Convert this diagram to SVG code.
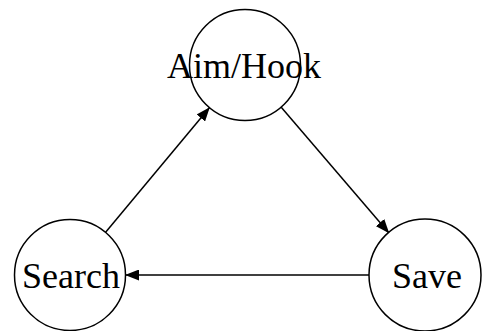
<svg xmlns="http://www.w3.org/2000/svg" width="483" height="331" viewBox="0 0 483 331">
<style>
.node circle{fill:#fff;stroke:#000;stroke-width:1.5}
.node text{font-family:"Liberation Serif","Times New Roman",serif;font-size:36px;fill:#000;text-anchor:middle}
.edge{stroke:#000;stroke-width:1.5;fill:none}
</style>
<defs>
<marker id="arr" markerUnits="userSpaceOnUse" markerWidth="15" markerHeight="11" refX="14" refY="5.5" orient="auto">
<path d="M0,0 L14,5.5 L0,11 Z" fill="#000"/>
</marker>
</defs>
<rect width="483" height="331" fill="#fff"/>
<g id="connectors">
<line class="edge" x1="105.2" y1="232.8" x2="209.8" y2="107.2" marker-end="url(#arr)"/>
<line class="edge" x1="280.8" y1="106.8" x2="389.2" y2="233.2" marker-end="url(#arr)"/>
<line class="edge" x1="370" y1="275" x2="125" y2="275" marker-end="url(#arr)"/>
</g>
<g id="aimhook" class="node">
<circle cx="245" cy="65" r="55.5"/>
<text x="244" y="78">Aim/Hook</text>
</g>
<g id="search" class="node">
<circle cx="70" cy="275" r="55.5"/>
<text x="71" y="288">Search</text>
</g>
<g id="save" class="node">
<circle cx="425" cy="275" r="56"/>
<text x="427" y="288">Save</text>
</g>
</svg>
